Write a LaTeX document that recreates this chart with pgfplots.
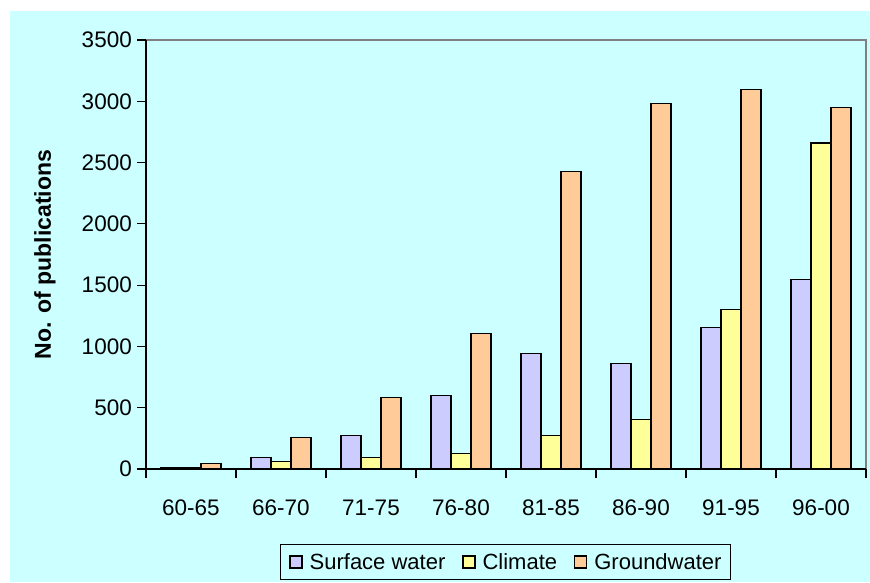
\documentclass[border=0pt]{standalone}
\usepackage{fontspec}
\setmainfont{Liberation Sans}
\usepackage{pgfplots}
\pgfplotsset{compat=1.18}
\definecolor{bgcyan}{HTML}{CCFFFF}
\definecolor{surf}{HTML}{CCCCFF}
\definecolor{clim}{HTML}{FFFF99}
\definecolor{gw}{HTML}{FFCC99}
\definecolor{framegray}{HTML}{808080}
\begin{document}
\begin{tikzpicture}[x=1pt,y=1pt]
\fill[white] (0,0) rectangle (870,582);
\useasboundingbox (0,0) rectangle (870,582);
\fill[bgcyan] (10,0) rectangle (870,571);
\begin{axis}[
  at={(146pt,113pt)}, anchor=south west,
  scale only axis, width=720pt, height=429pt,
  xmin=-0.5, xmax=7.5, ymin=0, ymax=3500,
  clip=false,
  axis line style={draw=none},
  tick pos=left,
  tick align=outside,
  major tick length=9pt,
  tick style={black, line width=1.2pt},
  xtick={-0.5,0.5,...,7.5},
  x tick label as interval,
  xticklabels={60-65,66-70,71-75,76-80,81-85,86-90,91-95,96-00},
  ytick={0,500,...,3500},
  scaled y ticks=false,
  /pgf/number format/1000 sep={},
  /pgf/number format/assume math mode=true,
  tick label style={font=\fontsize{22.5}{26}\selectfont},
  yticklabel style={inner sep=0pt, xshift=-5pt},
  xticklabel style={inner sep=0pt, yshift=-22pt},
  ylabel={No. of publications},
  every axis y label/.style={at={(axis description cs:-0.1403,0.5)}, rotate=90, anchor=center, font=\bfseries\fontsize{23}{27}\selectfont},
  ybar=0pt, bar width=20pt,
  mybar/.style={fill=#1, draw=black, line width=1.2pt,
    legend image code/.code={\draw[fill=#1, draw=black, line width=1.2pt] (0pt,-6pt) rectangle (12pt,6pt);}},
  legend columns=3,
  legend style={at={(0.4993,-0.2168)}, anchor=center, draw=black, line width=1.2pt, fill=bgcyan,
    font=\fontsize{22}{26}\selectfont,
    nodes={inner sep=0pt},
    /tikz/every odd column/.append style={column sep=7pt},
    /tikz/every even column/.append style={column sep=17pt},
    inner xsep=9pt, inner ysep=9pt},
]
\addplot[mybar=surf] coordinates {(0,12) (1,92) (2,272) (3,600) (4,945) (5,860) (6,1156) (7,1548)};
\addplot[mybar=clim] coordinates {(0,8) (1,60) (2,92) (3,126) (4,272) (5,405) (6,1303) (7,2660)};
\addplot[mybar=gw] coordinates {(0,45) (1,257) (2,582) (3,1108) (4,2430) (5,2982) (6,3096) (7,2950)};
\legend{Surface water, Climate, Groundwater}
\draw[framegray, line width=1.5pt] (rel axis cs:0,1) -- (rel axis cs:1,1) -- (rel axis cs:1,0);
\draw[black, line width=1.5pt] (rel axis cs:0,1) -- (rel axis cs:0,0) -- (rel axis cs:1,0);
\end{axis}
\end{tikzpicture}
\end{document}
